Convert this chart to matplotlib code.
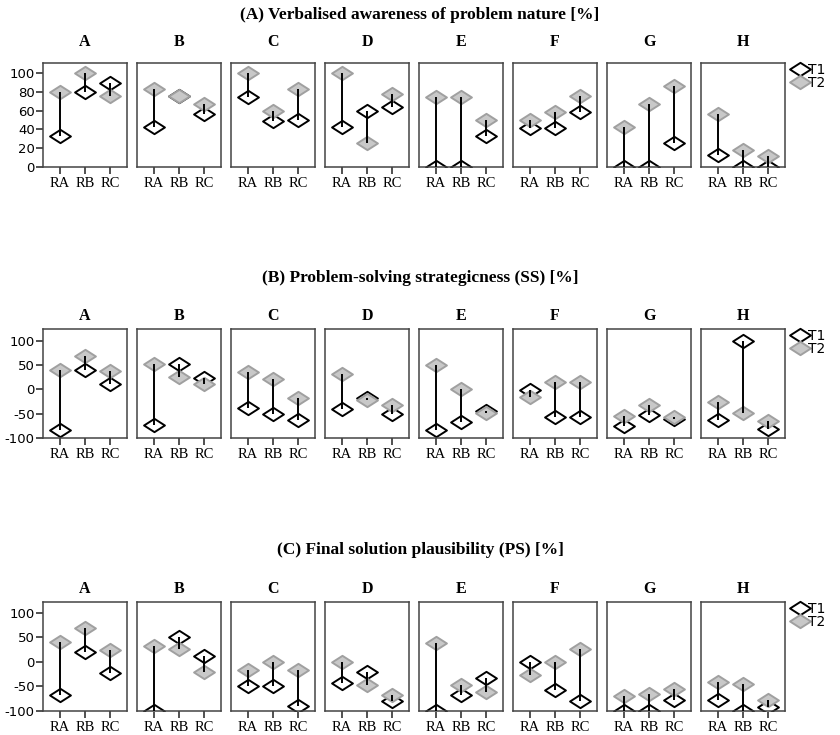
import numpy as np
import matplotlib
matplotlib.use("Agg")
import matplotlib.pyplot as plt
from matplotlib.path import Path
from matplotlib.lines import Line2D

plt.rcParams["axes.unicode_minus"] = False

cases = ["A", "B", "C", "D", "E", "F", "G", "H"]
groups = ["RA", "RB", "RC"]

# (A) verbalised awareness, values per case for RA, RB, RC
aware_t1 = [[33, 80, 89], [43, 75, 56], [74, 49, 50], [43, 60, 64],
            [0, 0, 33], [42, 42, 58], [0, 0, 25], [13, 0, 0]]
aware_t2 = [[80, 100, 76], [83, 75, 67], [100, 60, 83], [100, 25, 78],
            [74, 74, 50], [50, 58, 76], [43, 67, 86], [56, 18, 12]]

# (B) strategicness
ss_t1 = [[-83, 40, 12], [-73, 52, 23], [-38, -50, -63], [-41, -18, -50],
         [-83, -67, -45], [-1, -57, -57], [-76, -52, -60], [-63, 100, -81]]
ss_t2 = [[39, 68, 38], [52, 25, 12], [36, 22, -17], [32, -21, -33],
         [51, 1, -48], [-16, 16, 16], [-55, -33, -57], [-26, -49, -65]]

# (C) plausibility
ps_t1 = [[-68, 20, -23], [-100, 51, 12], [-50, -50, -89], [-43, -20, -79],
         [-100, -67, -33], [0, -58, -79], [-100, -100, -77], [-77, -100, -91]]
ps_t2 = [[41, 69, 25], [33, 27, -20], [-17, 0, -17], [0, -48, -68],
         [39, -48, -61], [-26, 0, 27], [-69, -66, -55], [-41, -45, -77]]

rows = [
    ("(A) Verbalised awareness of problem nature [%]", aware_t1, aware_t2,
     (0, 110.6), [0, 20, 40, 60, 80, 100], 63, 167, 15, 42),
    ("(B) Problem-solving strategicness (SS) [%]", ss_t1, ss_t2,
     (-100, 124), [-100, -50, 0, 50, 100], 329, 438, 278, 316),
    ("(C) Final solution plausibility (PS) [%]", ps_t1, ps_t2,
     (-100, 122), [-100, -50, 0, 50, 100], 602, 711, 550, 589),
]

W, H = 840, 735
fig = plt.figure(figsize=(8.4, 7.35), dpi=100)

# flat diamond marker
diamond = Path([(-1, 0), (0, 0.64), (1, 0), (0, -0.64), (-1, 0)],
               [Path.MOVETO, Path.LINETO, Path.LINETO, Path.LINETO, Path.CLOSEPOLY])
ms = 15
serif = "Liberation Serif"
x = np.arange(3)

for title, t1, t2, ylim, yticks, top, bot, ty, lty in rows:
    fig.text(420 / W, 1 - ty / H, title, ha="center", va="center",
             fontsize=12.5, fontweight="bold", family=serif)
    for i, case in enumerate(cases):
        left = 43 + 94 * i
        ax = fig.add_axes([left / W, 1 - bot / H, 84 / W, (bot - top) / H])
        fig.text((left + 42) / W, 1 - lty / H, case, ha="center", va="center",
                 fontsize=11.5, fontweight="bold", family=serif)
        a = np.array(t1[i])
        b = np.array(t2[i])
        ax.plot(x, a, linestyle="none", marker=diamond, markersize=ms,
                markerfacecolor="white", markeredgecolor="black", markeredgewidth=1.4, zorder=2)
        ax.plot(x, b, linestyle="none", marker=diamond, markersize=ms,
                markerfacecolor="#c8c8c8", markeredgecolor="#a0a0a0", markeredgewidth=1.4, zorder=3)
        ax.vlines(x, a, b, color="black", linewidth=1.4, zorder=4)
        ax.set_xlim(-0.65, 2.65)
        ax.set_ylim(*ylim)
        ax.set_xticks(x)
        ax.set_xticklabels(groups, family=serif, fontsize=10.5)
        ax.tick_params(axis="x", length=5, width=1.2, pad=2, color="#333333")
        if i == 0:
            ax.set_yticks(yticks)
            ax.tick_params(axis="y", length=5, width=1.2, pad=1, labelsize=9.5, color="#333333")
        else:
            ax.set_yticks([])
        for sp in ax.spines.values():
            sp.set_color("#444444")
            sp.set_linewidth(1.1)
        if i == 7:
            handles = [
                Line2D([], [], linestyle="none", marker=diamond, markersize=ms,
                       markerfacecolor="white", markeredgecolor="black", markeredgewidth=1.4),
                Line2D([], [], linestyle="none", marker=diamond, markersize=ms,
                       markerfacecolor="#c8c8c8", markeredgecolor="#a0a0a0", markeredgewidth=1.4),
            ]
            ax.legend(handles, ["T1", "T2"], loc="upper left", bbox_to_anchor=(1.1, 1.0),
                      frameon=False, fontsize=10, handlelength=1.0, handletextpad=0.05,
                      labelspacing=-0.05, borderaxespad=0.0, borderpad=0.0)

fig.savefig("out.png", dpi=100)
